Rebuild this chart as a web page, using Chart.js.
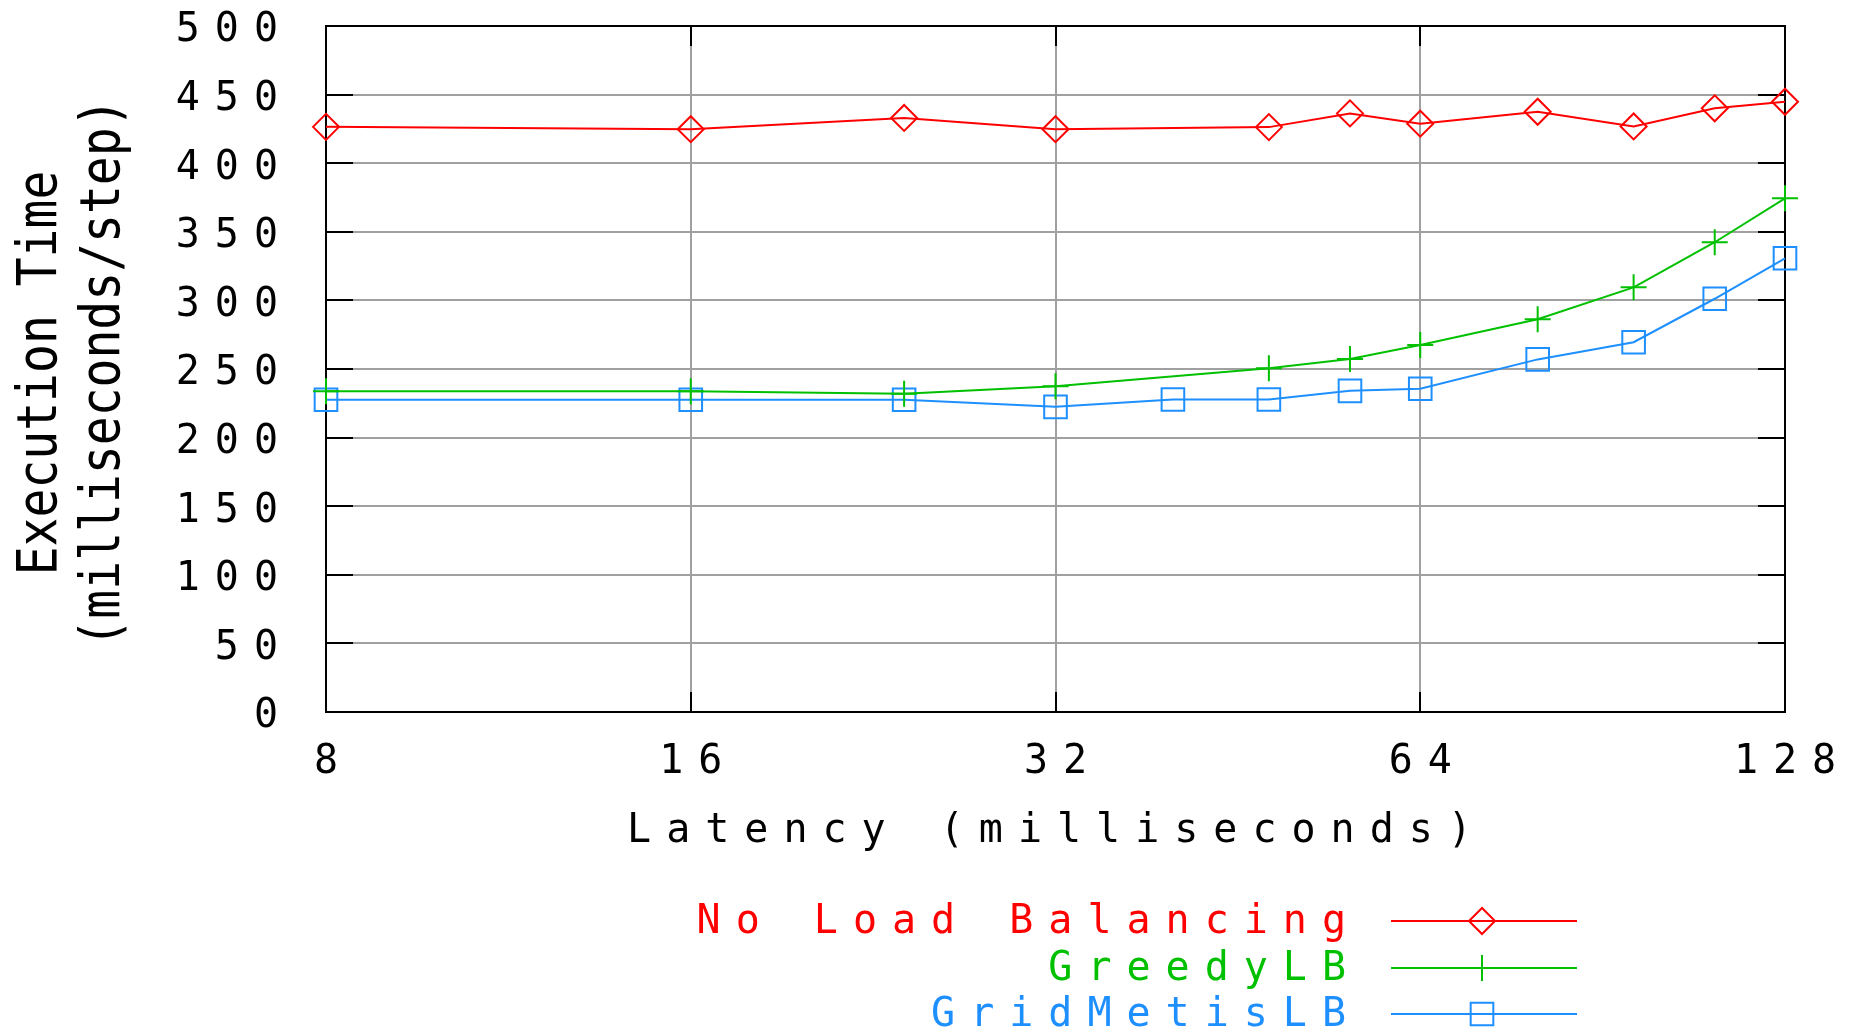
<!DOCTYPE html>
<html>
<head>
<meta charset="utf-8">
<script src="https://cdn.jsdelivr.net/npm/chart.js@4.4.1/dist/chart.umd.min.js"></script>
<style>
  html, body { margin: 0; padding: 0; background: #fff; }
  #wrap { width: 1856px; height: 1035px; position: relative; }
</style>
</head>
<body>
<div id="wrap"><canvas id="myChart"></canvas></div>
<script>
// latency in ms (x) and execution time in ms/step (y)
const noLbLatency = [8, 16, 24, 32, 48, 56, 64, 80, 96, 112, 128];
const noLbTime = [426.5, 424.8, 433, 424.8, 426.3, 436.3, 428.8, 437.5, 426.8, 440, 444.8];

const greedyLatency = [8, 16, 24, 32, 48, 56, 64, 80, 96, 112, 128];
const greedyTime = [233.7, 233.7, 232, 237.5, 250.5, 257.3, 267.5, 286.3, 309.5, 342.4, 374.4];

const metisLatency = [8, 16, 24, 32, 40, 48, 56, 64, 80, 96, 112, 128];
const metisTime = [227.6, 227.6, 227.6, 222.4, 227.8, 227.8, 234.1, 235.6, 257, 269.5, 301.2, 330.7];

const xTicks = [8, 16, 32, 64, 128];
const yMin = 0;
const yMax = 500;
const yStep = 50;

const seriesNames = ['No Load Balancing', 'GreedyLB', 'GridMetisLB'];
const seriesColors = ['#ff0000', '#00c000', '#1e8fff'];
const seriesPoints = ['rectRot', 'cross', 'rect'];
const seriesRadius = [13, 13, 16];

const xTitle = 'Latency (milliseconds)';
const yTitle = ['Execution Time', '(milliseconds/step)'];

const FONT = "'DejaVu Sans Mono', monospace";
const SPACING = 15;

function toPoints(xs, ys) {
  return xs.map((x, i) => ({ x: x, y: ys[i] }));
}

const datasets = [
  toPoints(noLbLatency, noLbTime),
  toPoints(greedyLatency, greedyTime),
  toPoints(metisLatency, metisTime)
].map((pts, i) => ({
  label: seriesNames[i],
  data: pts,
  borderColor: seriesColors[i],
  backgroundColor: 'rgba(0,0,0,0)',
  borderWidth: 2,
  pointStyle: seriesPoints[i],
  pointRadius: seriesRadius[i],
  pointBorderWidth: 2,
  pointBorderColor: seriesColors[i],
  pointBackgroundColor: 'rgba(0,0,0,0)',
  tension: 0,
  clip: false
}));

// scales should not push the plot area around; layout padding does that
function noScalePadding(scale) {
  scale.paddingTop = 0;
  scale.paddingBottom = 0;
  scale.paddingLeft = 0;
  scale.paddingRight = 0;
}

// frame, inward tick marks, axis titles and legend in gnuplot style
const gnuplotStyle = {
  id: 'gnuplotStyle',
  beforeUpdate(chart) { chart.ctx.letterSpacing = SPACING + 'px'; },
  beforeDraw(chart) { chart.ctx.letterSpacing = SPACING + 'px'; },
  beforeDatasetsDraw(chart) {
    const ctx = chart.ctx;
    const a = chart.chartArea;
    const xs = chart.scales.x;
    const ys = chart.scales.y;
    ctx.save();
    ctx.strokeStyle = '#000';
    ctx.lineWidth = 2;
    ctx.beginPath();
    ys.ticks.forEach(t => {
      const py = Math.round(ys.getPixelForValue(t.value));
      ctx.moveTo(a.left, py); ctx.lineTo(a.left + 27, py);
      ctx.moveTo(a.right, py); ctx.lineTo(a.right - 27, py);
    });
    xs.ticks.forEach(t => {
      const px = Math.round(xs.getPixelForValue(t.value));
      ctx.moveTo(px, a.bottom); ctx.lineTo(px, a.bottom - 20);
      ctx.moveTo(px, a.top); ctx.lineTo(px, a.top + 20);
    });
    ctx.stroke();
    ctx.strokeRect(a.left, a.top, a.right - a.left, a.bottom - a.top);
    ctx.restore();
  },
  afterDraw(chart) {
    const ctx = chart.ctx;
    const a = chart.chartArea;
    ctx.save();
    ctx.fillStyle = '#000';
    ctx.textBaseline = 'middle';

    // x title
    ctx.font = '40px ' + FONT;
    ctx.letterSpacing = SPACING + 'px';
    ctx.textAlign = 'center';
    ctx.fillText(xTitle, (a.left + a.right) / 2 - 6 + SPACING / 2, 832);

    // y title, rotated
    ctx.letterSpacing = '0px';
    ctx.font = '48px ' + FONT;
    const yCenter = 373;
    [42, 105].forEach((cx, i) => {
      ctx.save();
      ctx.translate(cx, yCenter);
      ctx.rotate(-Math.PI / 2);
      ctx.scale(1, 1.14);
      ctx.fillText(yTitle[i], 0, 0);
      ctx.restore();
    });

    // legend: text right-aligned, sample line with marker on the right
    const rowY = [921, 968, 1014];
    ctx.font = '40px ' + FONT;
    ctx.letterSpacing = SPACING + 'px';
    ctx.textAlign = 'right';
    chart.data.datasets.forEach((ds, i) => {
      const y = rowY[i];
      ctx.fillStyle = ds.borderColor;
      ctx.fillText(ds.label, 1346 + SPACING, y + 2);
      ctx.strokeStyle = ds.borderColor;
      ctx.lineWidth = 2;
      ctx.beginPath();
      ctx.moveTo(1391, y);
      ctx.lineTo(1577, y);
      ctx.stroke();
      ctx.fillStyle = 'rgba(0,0,0,0)';
      Chart.helpers.drawPoint(ctx, {
        pointStyle: ds.pointStyle,
        radius: ds.pointRadius,
        borderWidth: 2,
        rotation: 0
      }, 1482, y);
    });
    ctx.restore();
  }
};

const ctx = document.getElementById('myChart');
new Chart(ctx, {
  type: 'line',
  data: { datasets: datasets },
  options: {
    responsive: true,
    maintainAspectRatio: false,
    animation: false,
    events: [],
    layout: { padding: { left: 0, right: 71, top: 26, bottom: 0 } },
    plugins: {
      legend: { display: false },
      tooltip: { enabled: false }
    },
    scales: {
      x: {
        type: 'logarithmic',
        min: xTicks[0],
        max: xTicks[xTicks.length - 1],
        afterBuildTicks: (scale) => { scale.ticks = xTicks.map(v => ({ value: v })); },
        afterFit: (scale) => { scale.height = 323; noScalePadding(scale); },
        grid: { color: '#a0a0a0', lineWidth: 2, drawTicks: false },
        border: { display: false },
        ticks: {
          autoSkip: false,
          maxRotation: 0,
          padding: 27,
          labelOffset: SPACING / 2,
          color: '#000',
          font: { family: FONT, size: 40 },
          callback: (v) => String(v)
        }
      },
      y: {
        min: yMin,
        max: yMax,
        afterFit: (scale) => { scale.width = 326; noScalePadding(scale); },
        grid: { color: '#a0a0a0', lineWidth: 2, drawTicks: false },
        border: { display: false },
        ticks: {
          stepSize: yStep,
          padding: 33,
          labelOffset: 5,
          color: '#000',
          font: { family: FONT, size: 40 }
        }
      }
    }
  },
  plugins: [gnuplotStyle]
});
</script>
</body>
</html>
